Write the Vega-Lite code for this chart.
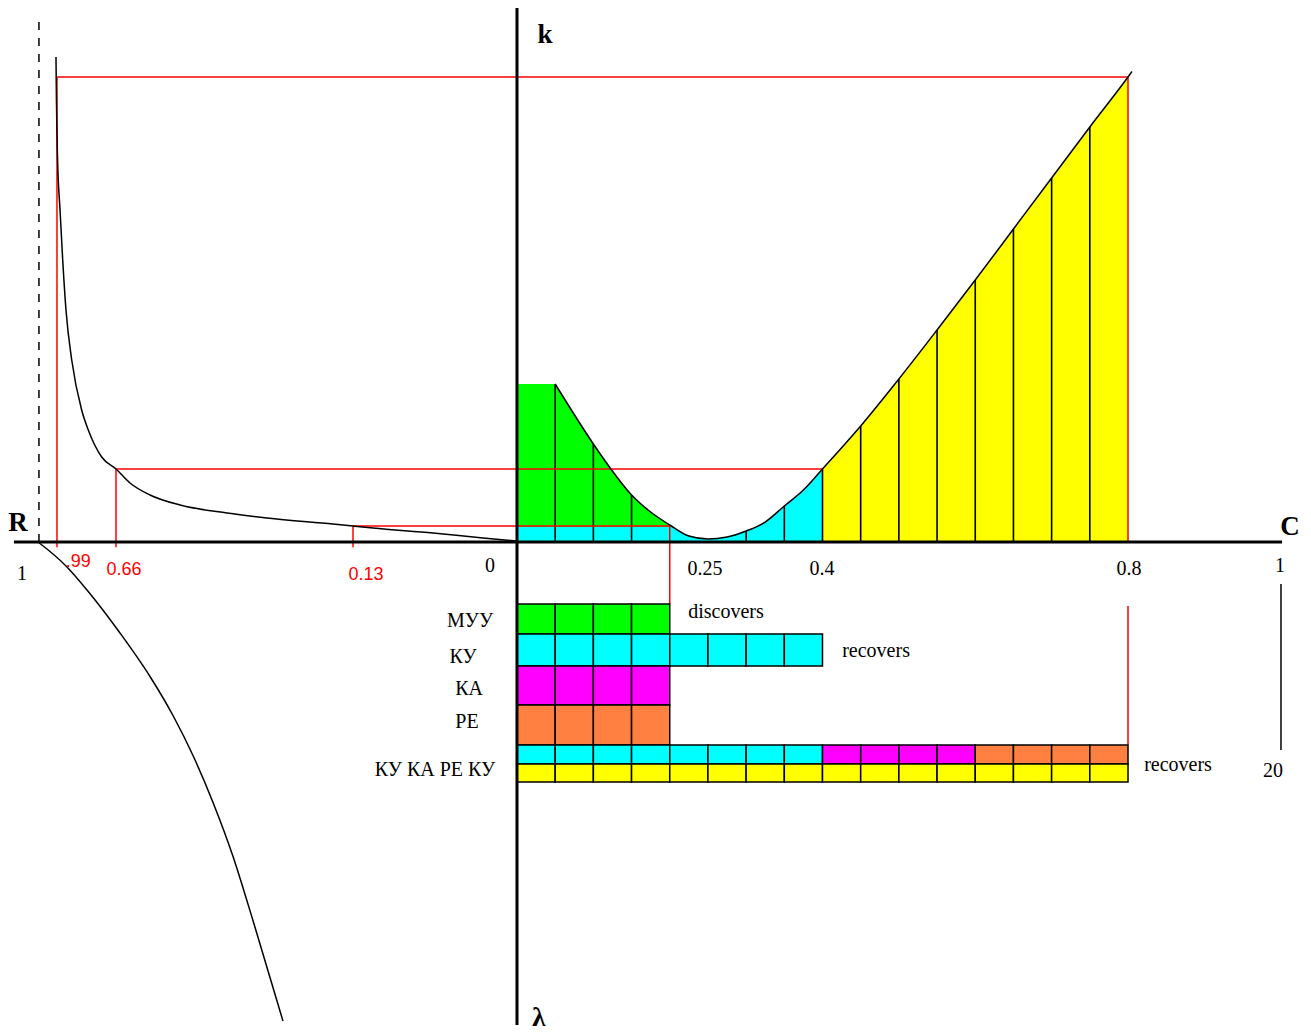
{
 "$schema": "https://vega.github.io/schema/vega-lite/v6.json",
 "width": 1311, "height": 1035,
 "autosize": {"type": "fit", "contains": "padding"},
 "padding": 0,
 "background": "white",
 "config": {"view": {"stroke": null}},
 "datasets": {
  "curve": [
   {"u":0,"k":0.3383},{"u":0.05,"k":0.3383},{"u":0.1,"k":0.2099},{"u":0.122,"k":0.1585},{"u":0.15,"k":0.1006},{"u":0.175,"k":0.0642},{"u":0.2,"k":0.0364},{"u":0.225,"k":0.0128},{"u":0.25,"k":0.0064},{"u":0.275,"k":0.0107},{"u":0.3,"k":0.0236},{"u":0.325,"k":0.0428},{"u":0.35,"k":0.0771},{"u":0.375,"k":0.1113},{"u":0.4,"k":0.1563},{"u":0.45,"k":0.2484},{"u":0.5,"k":0.349},{"u":0.55,"k":0.454},{"u":0.6,"k":0.561},{"u":0.65,"k":0.6702},{"u":0.7,"k":0.7794},{"u":0.75,"k":0.8887},{"u":0.8,"k":0.9957},{"u":0.8052,"k":1.0075}
  ],
  "columns": [
   {"u":0.05,"k":0.3383},{"u":0.1,"k":0.2099},{"u":0.15,"k":0.1006},{"u":0.3,"k":0.0236},{"u":0.35,"k":0.0771},{"u":0.4,"k":0.1563},{"u":0.45,"k":0.2484},{"u":0.5,"k":0.349},{"u":0.55,"k":0.454},{"u":0.6,"k":0.561},{"u":0.65,"k":0.6702},{"u":0.7,"k":0.7794},{"u":0.75,"k":0.8887}
  ],
  "leftcurves": [
   {"curve":"R","u":-0.6036,"k":1.0385},{"curve":"R","u":-0.603,"k":0.9465},{"curve":"R","u":-0.6016,"k":0.8244},{"curve":"R","u":-0.5983,"k":0.7109},{"curve":"R","u":-0.5948,"k":0.6039},{"curve":"R","u":-0.5905,"k":0.4968},{"curve":"R","u":-0.583,"k":0.3897},{"curve":"R","u":-0.57,"k":0.2827},{"curve":"R","u":-0.5613,"k":0.2398},{"curve":"R","u":-0.5438,"k":0.182},{"curve":"R","u":-0.525,"k":0.1563},{"curve":"R","u":-0.5067,"k":0.1263},{"curve":"R","u":-0.4805,"k":0.1006},{"curve":"R","u":-0.4412,"k":0.0792},{"curve":"R","u":-0.3797,"k":0.0621},{"curve":"R","u":-0.3273,"k":0.0514},{"curve":"R","u":-0.2409,"k":0.0385},{"curve":"R","u":-0.2147,"k":0.0343},{"curve":"R","u":-0.1885,"k":0.03},{"curve":"R","u":-0.11,"k":0.0193},{"curve":"R","u":-0.0445,"k":0.0086},{"curve":"R","u":0,"k":0.0021},
   {"curve":"L","u":-0.6272,"k":0},{"curve":"L","u":-0.6246,"k":-0.0032},{"curve":"L","u":-0.5892,"k":-0.0535},{"curve":"L","u":-0.563,"k":-0.1028},{"curve":"L","u":-0.5198,"k":-0.1949},{"curve":"L","u":-0.4805,"k":-0.288},{"curve":"L","u":-0.4504,"k":-0.3715},{"curve":"L","u":-0.4242,"k":-0.4572},{"curve":"L","u":-0.398,"k":-0.5578},{"curve":"L","u":-0.3718,"k":-0.6734},{"curve":"L","u":-0.3457,"k":-0.8105},{"curve":"L","u":-0.3234,"k":-0.9325},{"curve":"L","u":-0.3064,"k":-1.0257}
  ],
  "redlines": [
   {"u":-0.6023,"k":-0.011,"u2":-0.6023,"k2":0.9957},
   {"u":-0.6023,"k":0.9957,"u2":0.8,"k2":0.9957},
   {"u":0.8,"k":0.9957,"u2":0.8,"k2":0},
   {"u":-0.525,"k":-0.011,"u2":-0.525,"k2":0.1563},
   {"u":-0.525,"k":0.1563,"u2":0.4,"k2":0.1563},
   {"u":-0.2147,"k":-0.011,"u2":-0.2147,"k2":0.0343},
   {"u":-0.2147,"k":0.0343,"u2":0.2,"k2":0.0343},
   {"u":0.2,"k":0.0343,"u2":0.2,"k2":-0.1328},
   {"u":0.8,"k":-0.137,"u2":0.8,"k2":-0.4347}
  ],
  "cells": [
   {"g":"МУУ","u":0,"u2":0.05,"k":-0.1328,"k2":-0.197},{"g":"МУУ","u":0.05,"u2":0.1,"k":-0.1328,"k2":-0.197},{"g":"МУУ","u":0.1,"u2":0.15,"k":-0.1328,"k2":-0.197},{"g":"МУУ","u":0.15,"u2":0.2,"k":-0.1328,"k2":-0.197},
   {"g":"КУ","u":0,"u2":0.05,"k":-0.197,"k2":-0.2655},{"g":"КУ","u":0.05,"u2":0.1,"k":-0.197,"k2":-0.2655},{"g":"КУ","u":0.1,"u2":0.15,"k":-0.197,"k2":-0.2655},{"g":"КУ","u":0.15,"u2":0.2,"k":-0.197,"k2":-0.2655},{"g":"КУ","u":0.2,"u2":0.25,"k":-0.197,"k2":-0.2655},{"g":"КУ","u":0.25,"u2":0.3,"k":-0.197,"k2":-0.2655},{"g":"КУ","u":0.3,"u2":0.35,"k":-0.197,"k2":-0.2655},{"g":"КУ","u":0.35,"u2":0.4,"k":-0.197,"k2":-0.2655},
   {"g":"КА","u":0,"u2":0.05,"k":-0.2655,"k2":-0.349},{"g":"КА","u":0.05,"u2":0.1,"k":-0.2655,"k2":-0.349},{"g":"КА","u":0.1,"u2":0.15,"k":-0.2655,"k2":-0.349},{"g":"КА","u":0.15,"u2":0.2,"k":-0.2655,"k2":-0.349},
   {"g":"РЕ","u":0,"u2":0.05,"k":-0.349,"k2":-0.4347},{"g":"РЕ","u":0.05,"u2":0.1,"k":-0.349,"k2":-0.4347},{"g":"РЕ","u":0.1,"u2":0.15,"k":-0.349,"k2":-0.4347},{"g":"РЕ","u":0.15,"u2":0.2,"k":-0.349,"k2":-0.4347},
   {"g":"КУ","u":0,"u2":0.05,"k":-0.4347,"k2":-0.4754},{"g":"КУ","u":0.05,"u2":0.1,"k":-0.4347,"k2":-0.4754},{"g":"КУ","u":0.1,"u2":0.15,"k":-0.4347,"k2":-0.4754},{"g":"КУ","u":0.15,"u2":0.2,"k":-0.4347,"k2":-0.4754},{"g":"КУ","u":0.2,"u2":0.25,"k":-0.4347,"k2":-0.4754},{"g":"КУ","u":0.25,"u2":0.3,"k":-0.4347,"k2":-0.4754},{"g":"КУ","u":0.3,"u2":0.35,"k":-0.4347,"k2":-0.4754},{"g":"КУ","u":0.35,"u2":0.4,"k":-0.4347,"k2":-0.4754},
   {"g":"КА","u":0.4,"u2":0.45,"k":-0.4347,"k2":-0.4754},{"g":"КА","u":0.45,"u2":0.5,"k":-0.4347,"k2":-0.4754},{"g":"КА","u":0.5,"u2":0.55,"k":-0.4347,"k2":-0.4754},{"g":"КА","u":0.55,"u2":0.6,"k":-0.4347,"k2":-0.4754},
   {"g":"РЕ","u":0.6,"u2":0.65,"k":-0.4347,"k2":-0.4754},{"g":"РЕ","u":0.65,"u2":0.7,"k":-0.4347,"k2":-0.4754},{"g":"РЕ","u":0.7,"u2":0.75,"k":-0.4347,"k2":-0.4754},{"g":"РЕ","u":0.75,"u2":0.8,"k":-0.4347,"k2":-0.4754},
   {"g":"total","u":0,"u2":0.05,"k":-0.4754,"k2":-0.5139},{"g":"total","u":0.05,"u2":0.1,"k":-0.4754,"k2":-0.5139},{"g":"total","u":0.1,"u2":0.15,"k":-0.4754,"k2":-0.5139},{"g":"total","u":0.15,"u2":0.2,"k":-0.4754,"k2":-0.5139},{"g":"total","u":0.2,"u2":0.25,"k":-0.4754,"k2":-0.5139},{"g":"total","u":0.25,"u2":0.3,"k":-0.4754,"k2":-0.5139},{"g":"total","u":0.3,"u2":0.35,"k":-0.4754,"k2":-0.5139},{"g":"total","u":0.35,"u2":0.4,"k":-0.4754,"k2":-0.5139},{"g":"total","u":0.4,"u2":0.45,"k":-0.4754,"k2":-0.5139},{"g":"total","u":0.45,"u2":0.5,"k":-0.4754,"k2":-0.5139},{"g":"total","u":0.5,"u2":0.55,"k":-0.4754,"k2":-0.5139},{"g":"total","u":0.55,"u2":0.6,"k":-0.4754,"k2":-0.5139},{"g":"total","u":0.6,"u2":0.65,"k":-0.4754,"k2":-0.5139},{"g":"total","u":0.65,"u2":0.7,"k":-0.4754,"k2":-0.5139},{"g":"total","u":0.7,"u2":0.75,"k":-0.4754,"k2":-0.5139},{"g":"total","u":0.75,"u2":0.8,"k":-0.4754,"k2":-0.5139}
  ],
  "axes": [
   {"u":-0.6586,"k":0,"u2":1.0016,"k2":0},
   {"u":0,"k":1.1435,"u2":0,"k2":-1.0343}
  ],
  "thin": [
   {"u":1.0003,"k":-0.0899,"u2":1.0003,"k2":-0.4454}
  ],
  "dashed": [
   {"u":-0.6259,"k":1.1135,"u2":-0.6259,"k2":-0.0064}
  ],
  "ticks": [
   {"u":0.05},{"u":0.1},{"u":0.15},{"u":0.2},{"u":0.25},{"u":0.3},{"u":0.35},{"u":0.4},{"u":0.45},{"u":0.5},{"u":0.55},{"u":0.6},{"u":0.65},{"u":0.7},{"u":0.75},{"u":0.8},{"u":0.85},{"u":0.9},{"u":0.95},{"u":1.0}
  ],
  "serif": [
   {"t":"МУУ","u":-0.0615,"k":-0.1692},
   {"t":"КУ","u":-0.0707,"k":-0.2463},
   {"t":"КА","u":-0.0628,"k":-0.3148},
   {"t":"РЕ","u":-0.0655,"k":-0.3854},
   {"t":"КУ КА РЕ КУ","u":-0.1074,"k":-0.4882},
   {"t":"discovers","u":0.2737,"k":-0.1499},
   {"t":"recovers","u":0.4701,"k":-0.2334},
   {"t":"recovers","u":0.8655,"k":-0.4775},
   {"t":"0.25","u":0.2462,"k":-0.0578},
   {"t":"0.4","u":0.3993,"k":-0.0578},
   {"t":"0.8","u":0.8013,"k":-0.0578},
   {"t":"1","u":0.999,"k":-0.0514},
   {"t":"0","u":-0.0354,"k":-0.0514},
   {"t":"1","u":-0.6481,"k":-0.0685},
   {"t":"20","u":0.9899,"k":-0.4904}
  ],
  "redtext": [
   {"t":".99","u":-0.5744,"k":-0.0428},
   {"t":"0.66","u":-0.5146,"k":-0.06},
   {"t":"0.13","u":-0.1977,"k":-0.0707}
  ],
  "bold": [
   {"t":"k","u":0.0367,"k":1.0857},
   {"t":"R","u":-0.6534,"k":0.0407},
   {"t":"C","u":1.0121,"k":0.0321},
   {"t":"λ","u":0.0288,"k":-1.0193}
  ]
 },
 "encoding": {
  "x": {"field": "u", "type": "quantitative", "scale": {"domain": [-0.6769, 1.0396], "nice": false, "zero": false}, "axis": null},
  "y": {"field": "k", "type": "quantitative", "scale": {"domain": [-1.0557, 1.1606], "nice": false, "zero": false}, "axis": null}
 },
 "layer": [
  {"data": {"name": "curve"}, "transform": [{"filter": "datum.u <= 0.05"}],
   "mark": {"type": "area", "color": "#00FFFF"},
   "encoding": {"y2": {"datum": 0}}},
  {"data": {"name": "curve"}, "transform": [{"filter": "datum.u >= 0.05 && datum.u <= 0.4"}],
   "mark": {"type": "area", "color": "#00FFFF", "interpolate": "monotone"},
   "encoding": {"y2": {"datum": 0}}},
  {"data": {"name": "curve"}, "transform": [{"filter": "datum.u <= 0.05"}],
   "mark": {"type": "area", "color": "#00FF00"},
   "encoding": {"y2": {"datum": 0.0321}}},
  {"data": {"name": "curve"}, "transform": [{"filter": "datum.u >= 0.05 && datum.u <= 0.2"}],
   "mark": {"type": "area", "color": "#00FF00", "interpolate": "monotone"},
   "encoding": {"y2": {"datum": 0.0321}}},
  {"data": {"name": "curve"}, "transform": [{"filter": "datum.u >= 0.4 && datum.u <= 0.8"}],
   "mark": {"type": "area", "color": "#FFFF00", "interpolate": "monotone"},
   "encoding": {"y2": {"datum": 0}}},
  {"data": {"name": "columns"},
   "mark": {"type": "rule", "color": "black", "strokeWidth": 1.6},
   "encoding": {"y2": {"datum": 0}}},
  {"data": {"name": "redlines"},
   "mark": {"type": "rule", "color": "#FF0000", "strokeWidth": 1.5},
   "encoding": {"x2": {"field": "u2"}, "y2": {"field": "k2"}}},
  {"data": {"name": "curve"}, "transform": [{"filter": "datum.u >= 0.05"}],
   "mark": {"type": "line", "color": "black", "strokeWidth": 1.5, "interpolate": "monotone"},
   "encoding": {}},
  {"data": {"name": "leftcurves"},
   "mark": {"type": "line", "color": "black", "strokeWidth": 1.5, "interpolate": "monotone"},
   "encoding": {"detail": {"field": "curve"}}},
  {"data": {"name": "cells"},
   "mark": {"type": "rect", "stroke": "black", "strokeWidth": 1.5, "opacity": 1},
   "encoding": {"x2": {"field": "u2"}, "y2": {"field": "k2"},
    "fill": {"field": "g", "type": "nominal", "legend": null,
     "scale": {"domain": ["МУУ", "КУ", "КА", "РЕ", "total"], "range": ["#00FF00", "#00FFFF", "#FF00FF", "#FF8040", "#FFFF00"]}}}},
  {"data": {"name": "thin"},
   "mark": {"type": "rule", "color": "black", "strokeWidth": 1.5},
   "encoding": {"x2": {"field": "u2"}, "y2": {"field": "k2"}}},
  {"data": {"name": "dashed"},
   "mark": {"type": "rule", "color": "black", "strokeWidth": 1.5, "strokeDash": [8, 8]},
   "encoding": {"x2": {"field": "u2"}, "y2": {"field": "k2"}}},
  {"data": {"name": "axes"},
   "mark": {"type": "rule", "color": "black", "strokeWidth": 3},
   "encoding": {"x2": {"field": "u2"}, "y2": {"field": "k2"}}},
  {"data": {"name": "ticks"},
   "mark": {"type": "rule", "color": "black", "strokeWidth": 1.5},
   "encoding": {"y": {"datum": 0.002}, "y2": {"datum": -0.011}}},
  {"data": {"name": "serif"},
   "mark": {"type": "text", "font": "Liberation Serif", "fontSize": 20, "color": "black", "align": "center", "baseline": "middle"},
   "encoding": {"text": {"field": "t"}}},
  {"data": {"name": "redtext"},
   "mark": {"type": "text", "font": "Liberation Sans", "fontSize": 18, "color": "#FF0000", "align": "center", "baseline": "middle"},
   "encoding": {"text": {"field": "t"}}},
  {"data": {"name": "bold"},
   "mark": {"type": "text", "font": "Liberation Serif", "fontSize": 27, "fontWeight": "bold", "color": "black", "align": "center", "baseline": "middle"},
   "encoding": {"text": {"field": "t"}}}
 ]
}
